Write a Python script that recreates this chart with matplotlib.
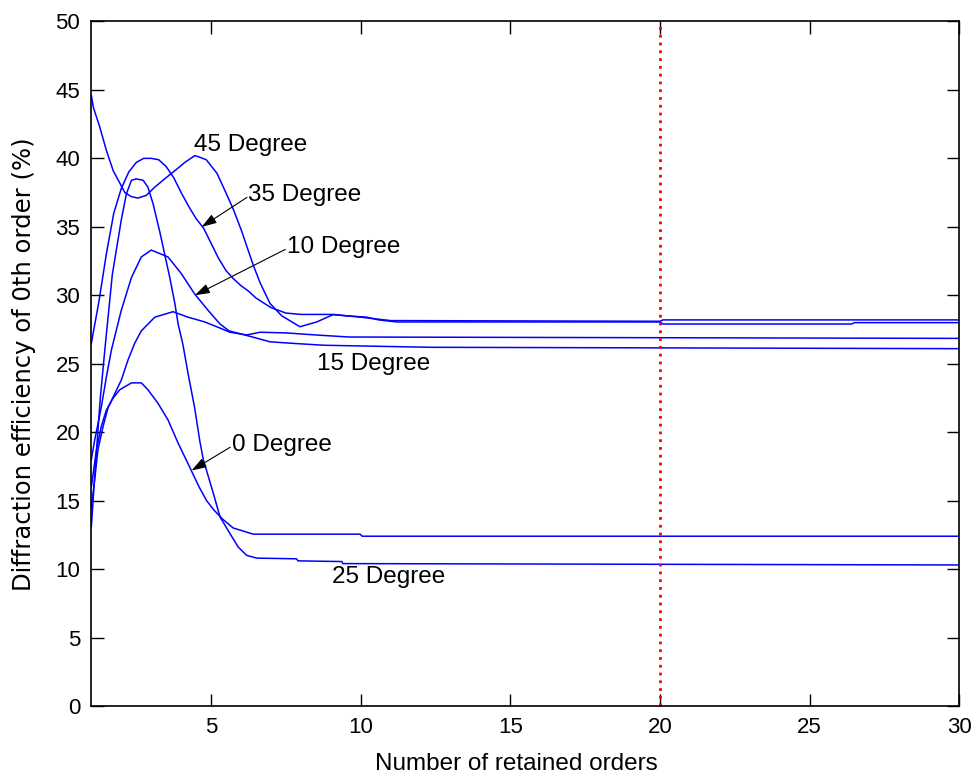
import matplotlib.pyplot as plt

# retained orders / efficiency (%) for each incidence angle
x_45 = [1.0, 1.07, 1.28, 1.5, 1.73, 1.95, 2.12, 2.34, 2.56, 2.84, 3.12, 3.45,
        3.79, 4.12, 4.46, 4.6, 4.84, 5.02, 5.2, 5.41, 5.74, 6.02, 6.19, 6.41,
        6.64, 6.97, 7.36, 7.97, 8.53, 9.09, 9.53, 10.2, 10.6, 11.2, 20.0,
        20.1, 26.4, 26.5, 30.0]
y_45 = [44.6, 43.7, 42.3, 40.6, 39.1, 38.2, 37.5, 37.2, 37.1, 37.3, 37.9, 38.5,
        39.1, 39.7, 40.2, 40.1, 39.9, 39.4, 38.9, 37.9, 36.3, 34.7, 33.6, 32.2,
        30.9, 29.4, 28.5, 27.7, 28.05, 28.6, 28.5, 28.4, 28.2, 28.05, 28.05,
        27.9, 27.9, 28.0, 28.0]

x_35 = [1.0, 1.25, 1.5, 1.75, 2.0, 2.25, 2.5, 2.75, 3.0, 3.25, 3.5, 3.75,
        4.0, 4.25, 4.5, 4.75, 5.0, 5.25, 5.5, 5.75, 6.0, 6.25, 6.5, 7.0,
        7.5, 8.0, 9.0, 10.0, 11.0, 20.0, 20.1, 30.0]
y_35 = [26.5, 29.5, 33.0, 36.0, 37.8, 39.0, 39.7, 40.0, 40.0, 39.9, 39.4, 38.6,
        37.5, 36.5, 35.6, 34.9, 33.8, 32.7, 31.8, 31.2, 30.7, 30.3, 29.8, 29.1,
        28.7, 28.6, 28.6, 28.4, 28.15, 28.1, 28.2, 28.2]

x_25 = [1.0, 1.15, 1.3, 1.45, 1.7, 2.0, 2.17, 2.34, 2.5, 2.73, 2.89, 3.06,
        3.28, 3.45, 3.62, 3.79, 3.9, 4.06, 4.23, 4.45, 4.62, 4.74, 5.08, 5.3,
        5.63, 5.91, 6.19, 6.53, 7.86, 7.9, 9.37, 9.4, 30.0]
y_25 = [13.1, 18.0, 22.5, 26.0, 31.5, 35.5, 37.4, 38.4, 38.5, 38.4, 37.9, 36.7,
        34.7, 33.0, 31.3, 29.4, 27.9, 26.4, 24.3, 21.8, 19.4, 18.0, 15.5, 13.8,
        12.6, 11.6, 11.0, 10.8, 10.75, 10.6, 10.55, 10.4, 10.3]

x_15 = [1.0, 1.11, 1.22, 1.39, 1.56, 1.78, 2.0, 2.23, 2.45, 2.67, 3.12, 3.73,
        4.23, 4.79, 5.19, 5.63, 6.19, 6.64, 7.5, 8.5, 9.6, 30.0]
y_15 = [14.5, 16.5, 18.7, 20.4, 21.8, 22.8, 23.8, 25.3, 26.5, 27.4, 28.4, 28.8,
        28.4, 28.05, 27.7, 27.3, 27.1, 27.3, 27.25, 27.1, 26.95, 26.85]

x_10 = [1.0, 1.11, 1.33, 1.5, 1.67, 2.0, 2.34, 2.67, 3.0, 3.56, 4.0, 4.45,
        4.9, 5.3, 5.6, 6.3, 6.97, 7.64, 8.75, 12.3, 30.0]
y_10 = [18.0, 19.4, 21.8, 24.0, 26.0, 28.9, 31.3, 32.8, 33.3, 32.8, 31.6, 30.1,
        28.9, 27.9, 27.4, 27.0, 26.6, 26.5, 26.35, 26.2, 26.1]

x_0 = [1.0, 1.17, 1.33, 1.5, 1.73, 1.95, 2.34, 2.67, 2.89, 3.23, 3.56, 3.9,
       4.34, 4.6, 4.85, 5.1, 5.41, 5.74, 6.19, 6.41, 9.98, 10.05, 30.0]
y_0 = [16.0, 18.7, 20.4, 21.6, 22.5, 23.1, 23.6, 23.6, 23.1, 22.1, 20.9, 19.2,
       17.2, 16.0, 15.0, 14.3, 13.6, 13.0, 12.7, 12.55, 12.55, 12.4, 12.4]

curves = [(x_45, y_45), (x_35, y_35), (x_25, y_25),
          (x_15, y_15), (x_10, y_10), (x_0, y_0)]

# label text, text anchor, arrow tip (None = plain text)
labels = ["45 Degree", "35 Degree", "10 Degree", "15 Degree", "0 Degree", "25 Degree"]
label_xy = [(4.42, 41.0), (6.25, 37.3), (7.53, 33.5), (8.53, 25.0), (5.69, 19.05), (9.03, 9.45)]
arrow_tips = [None, (4.69, 35.0), (4.46, 30.0), None, (4.35, 17.2), None]

cutoff_order = 20

plt.rcParams["font.family"] = ["Liberation Sans", "DejaVu Sans"]

fig = plt.figure(figsize=(9.79, 7.8), dpi=100)
ax = fig.add_axes([0.0933, 0.0949, 0.8866, 0.8776])

for xs, ys in curves:
    ax.plot(xs, ys, color="#0000ff", lw=1.1)

ax.axvline(cutoff_order, color="#ff0000", lw=2.0, linestyle=(0, (1, 1.8)))

for text, (tx, ty), tip in zip(labels, label_xy, arrow_tips):
    ax.text(tx, ty, text, fontsize=17.5, ha="left", va="center")
    if tip is not None:
        ax.annotate(
            "",
            xy=tip,
            xytext=(tx - 0.05, ty - 0.15),
            arrowprops=dict(arrowstyle="-|>,head_length=0.9,head_width=0.3",
                            color="black", lw=0.8,
                            mutation_scale=10, shrinkA=0, shrinkB=0),
        )

ax.set_xlim(1, 30)
ax.set_ylim(0, 50)
ax.set_xticks([5, 10, 15, 20, 25, 30])
ax.set_yticks(range(0, 51, 5))
ax.tick_params(direction="in", length=9, width=1, labelsize=16, pad=8,
               top=True, right=True)
for spine in ax.spines.values():
    spine.set_linewidth(1.2)

ax.set_xlabel("Number of retained orders", fontsize=17.5)
ax.xaxis.set_label_coords(0.49, -0.068)
ax.set_ylabel("Diffraction efficiency of 0th order (%)", fontsize=17.5,
              family=["DejaVu Sans"])
ax.yaxis.set_label_coords(-0.064, 0.5)

fig.savefig("out.png", dpi=100)
plt.close(fig)
